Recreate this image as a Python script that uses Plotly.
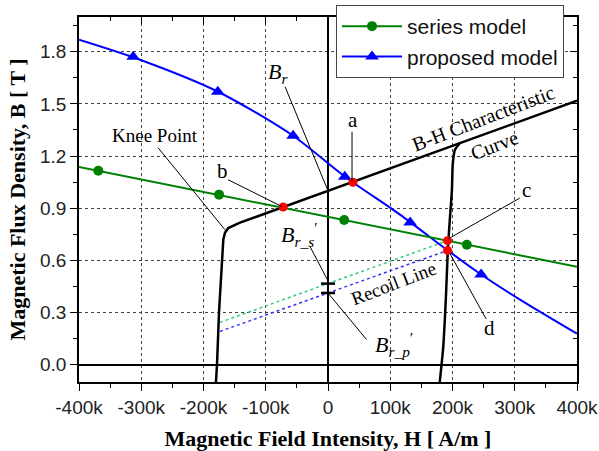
import numpy as np
import plotly.graph_objects as go

# ---------------- data (H in A/m, B in T) ----------------
# proposed model (blue) line and its triangle markers
prop_H = [-400e3, -302e3, -176.7e3, -56.2e3, 27.3e3, 115.7e3, 192.3e3, 244.2e3, 308.4e3, 400e3]
prop_B = [1.869, 1.754, 1.570, 1.317, 1.081, 0.863, 0.657, 0.523, 0.374, 0.178]
prop_mk_H = [-313e3, -177e3, -56e3, 27e3, 132e3, 246e3]
prop_mk_B = [1.772, 1.570, 1.317, 1.081, 0.818, 0.519]

# series model (green) line and its circle markers
ser_H = [-400e3, 400e3]
ser_B = [1.137, 0.563]
ser_mk_H = [-369e3, -175e3, 26e3, 223e3]
ser_mk_B = [1.115, 0.978, 0.832, 0.690]

# B-H characteristic curve (main branch with knee)
bh_H = [-180e3, -178.3e3, -175.1e3, -170.8e3, -168.2e3, -165.5e3, -160.2e3, -141.4e3, 400e3]
bh_B = [-0.10, 0.0, 0.30, 0.592, 0.719, 0.759, 0.786, 0.817, 1.518]
# shifted branch
bh2_H = [179.5e3, 181e3, 185.2e3, 189.5e3, 192.5e3, 196e3, 199e3, 200.5e3, 204e3, 212e3]
bh2_B = [-0.10, -0.05, 0.105, 0.393, 0.66, 0.85, 1.0, 1.16, 1.236, 1.275]

# recoil lines (dotted)
rec_s_H = [-173.5e3, 192e3]
rec_s_B = [0.243, 0.713]
rec_p_H = [-173.5e3, 192e3]
rec_p_B = [0.191, 0.657]

# operating points a, b, c, d
op_H = [40e3, -72e3, 192e3, 192e3]
op_B = [1.049, 0.907, 0.713, 0.657]

# axis ticks
x_tickvals = [-400e3, -300e3, -200e3, -100e3, 0, 100e3, 200e3, 300e3, 400e3]
x_ticktext = ["-400k", "-300k", "-200k", "-100k", "0", "100k", "200k", "300k", "400k"]
y_tickvals = [0.0, 0.3, 0.6, 0.9, 1.2, 1.5, 1.8]
y_ticktext = ["0.0", "0.3", "0.6", "0.9", "1.2", "1.5", "1.8"]

XR = [-400e3, 400e3]
YR = [-0.1, 2.0]

GREEN = "#008000"
BLUE = "#0000ff"
SERIF = "Liberation Serif, Times New Roman, serif"
SANS = "Liberation Sans, Arial, sans-serif"

fig = go.Figure()

# B-H curves
fig.add_trace(go.Scatter(x=bh_H, y=bh_B, mode="lines", line=dict(color="black", width=2.5),
                         showlegend=False, hoverinfo="skip"))
fig.add_trace(go.Scatter(x=bh2_H, y=bh2_B, mode="lines", line=dict(color="black", width=2.5, shape="spline", smoothing=0.6),
                         showlegend=False, hoverinfo="skip"))
# recoil lines
fig.add_trace(go.Scatter(x=rec_s_H, y=rec_s_B, mode="lines", line=dict(color="#33cc77", width=1.5, dash="dot"),
                         showlegend=False, hoverinfo="skip"))
fig.add_trace(go.Scatter(x=rec_p_H, y=rec_p_B, mode="lines", line=dict(color="#3333ff", width=1.5, dash="dot"),
                         showlegend=False, hoverinfo="skip"))
# residual flux marks on H=0
br_marks = [float(np.interp(0, rec_s_H, rec_s_B)), float(np.interp(0, rec_p_H, rec_p_B))]
fig.add_trace(go.Scatter(x=[0, 0], y=br_marks, mode="markers",
                         marker=dict(symbol="line-ew", size=10, line=dict(color="black", width=2.5)),
                         showlegend=False, hoverinfo="skip"))

# proposed model
fig.add_trace(go.Scatter(x=prop_H, y=prop_B, mode="lines", line=dict(color=BLUE, width=2, shape="spline", smoothing=0.8),
                         showlegend=False, hoverinfo="skip"))
fig.add_trace(go.Scatter(x=prop_mk_H, y=prop_mk_B, mode="markers",
                         marker=dict(symbol="triangle-up", size=12, color=BLUE),
                         showlegend=False, hoverinfo="skip"))
# series model
fig.add_trace(go.Scatter(x=ser_H, y=ser_B, mode="lines", line=dict(color=GREEN, width=2),
                         showlegend=False, hoverinfo="skip"))
fig.add_trace(go.Scatter(x=ser_mk_H, y=ser_mk_B, mode="markers",
                         marker=dict(symbol="circle", size=10, color=GREEN),
                         showlegend=False, hoverinfo="skip"))
# operating points
fig.add_trace(go.Scatter(x=op_H, y=op_B, mode="markers", marker=dict(size=9, color="#ff0000"),
                         showlegend=False, hoverinfo="skip"))

# legend entries
fig.add_trace(go.Scatter(x=[None], y=[None], mode="lines+markers", name="series model",
                         line=dict(color=GREEN, width=2), marker=dict(symbol="circle", size=10, color=GREEN)))
fig.add_trace(go.Scatter(x=[None], y=[None], mode="lines+markers", name="proposed model",
                         line=dict(color=BLUE, width=2), marker=dict(symbol="triangle-up", size=12, color=BLUE)))

# dummy traces to realise mirrored (inside) top/right axes
fig.add_trace(go.Scatter(x=[None], y=[None], xaxis="x2", yaxis="y", showlegend=False, hoverinfo="skip"))
fig.add_trace(go.Scatter(x=[None], y=[None], xaxis="x", yaxis="y2", showlegend=False, hoverinfo="skip"))

# leader lines
leaders = [
    ((-273e3, 1.248), (-165.5e3, 0.776)),   # knee point
    ((-160.6e3, 1.064), (-73.9e3, 0.909)),  # b
    ((-69e3, 1.599), (0, 1.0)),             # Br
    ((-29e3, 0.680), (1.5e3, 0.472)),       # Br_s'
    ((62e3, 0.144), (0, 0.412)),            # Br_p'
    ((38.6e3, 1.34), (38.6e3, 1.052)),      # a
    ((308e3, 0.958), (193e3, 0.723)),       # c
    ((254e3, 0.263), (196e3, 0.638)),       # d
]
for (x0, y0), (x1, y1) in leaders:
    fig.add_shape(type="line", xref="x", yref="y", x0=x0, y0=y0, x1=x1, y1=y1,
                  line=dict(color="black", width=1))

def txt(x, y, s, size=19, angle=0):
    fig.add_annotation(x=x, y=y, xref="x", yref="y", text=s, showarrow=False,
                       textangle=angle, font=dict(family=SERIF, size=size, color="black"))

txt(-278e3, 1.318, "Knee Point", 19)
txt(-170e3, 1.112, "b", 21)
txt(40e3, 1.409, "a", 21)
txt(319e3, 1.006, "c", 21)
txt(260e3, 0.211, "d", 21)
txt(-80e3, 1.679, "<i>B</i><sub><i>r</i></sub>", 22)
txt(-46e3, 0.748, "<i>B</i><sub><i>r_s</i></sub><sup>′</sup>", 22)
txt(106e3, 0.115, "<i>B</i><sub><i>r_p</i></sub><sup>′</sup>", 22)
txt(250e3, 1.418, "B-H Characteristic", 20, -21)
txt(268e3, 1.262, "Curve", 20, -21)
txt(105e3, 0.468, "Recoil Line", 19, -21)

axis_common = dict(showline=True, linecolor="black", linewidth=1.5, mirror=False, automargin=False)

fig.update_layout(
    width=599, height=451,
    margin=dict(l=79, r=22, t=17, b=69, autoexpand=False),
    plot_bgcolor="white", paper_bgcolor="white",
    font=dict(family=SANS, size=19, color="#222"),
    xaxis=dict(range=XR, tickvals=x_tickvals, ticktext=x_ticktext,
               ticks="outside", ticklen=7, tickwidth=1.2, tickcolor="black",
               minor=dict(dtick=50e3, tick0=0, ticks="outside", ticklen=4, tickwidth=1.2, tickcolor="black", showgrid=False),
               showgrid=True, gridcolor="#444", griddash="dot", gridwidth=1,
               zeroline=True, zerolinecolor="black", zerolinewidth=1.5,
               title=dict(text="<b>Magnetic Field Intensity, H [ A/m ]</b>",
                          font=dict(family=SERIF, size=22, color="black"), standoff=14),
               tickfont=dict(family=SANS, size=19, color="#222"),
               **axis_common),
    yaxis=dict(range=YR, tickvals=y_tickvals, ticktext=y_ticktext,
               ticks="outside", ticklen=7, tickwidth=1.2, tickcolor="black",
               minor=dict(dtick=0.15, tick0=0, ticks="outside", ticklen=4, tickwidth=1.2, tickcolor="black", showgrid=False),
               showgrid=True, gridcolor="#444", griddash="dot", gridwidth=1,
               zeroline=True, zerolinecolor="black", zerolinewidth=1.5,
               title=dict(text="<b>Magnetic Flux Density, B [ T ]</b>",
                          font=dict(family=SERIF, size=22, color="black"), standoff=8),
               tickfont=dict(family=SANS, size=19, color="#222"),
               **axis_common),
    xaxis2=dict(range=XR, overlaying="x", side="top", anchor="y", tickvals=x_tickvals,
                showticklabels=False, ticks="inside", ticklen=7, tickwidth=1.2, tickcolor="black",
                minor=dict(dtick=50e3, tick0=0, ticks="inside", ticklen=4, tickwidth=1.2, tickcolor="black", showgrid=False),
                showgrid=False, zeroline=False, **axis_common),
    yaxis2=dict(range=YR, overlaying="y", side="right", anchor="x", tickvals=y_tickvals,
                showticklabels=False, ticks="inside", ticklen=7, tickwidth=1.2, tickcolor="black",
                minor=dict(dtick=0.15, tick0=0, ticks="inside", ticklen=4, tickwidth=1.2, tickcolor="black", showgrid=False),
                showgrid=False, zeroline=False, **axis_common),
    legend=dict(xref="container", yref="container", x=336 / 599, y=1 - 5 / 451,
                xanchor="left", yanchor="top",
                bgcolor="white", bordercolor="#444", borderwidth=1,
                font=dict(family=SANS, size=21, color="#111"),
                itemwidth=60, tracegroupgap=0),
    showlegend=True,
)

fig.write_html("out.html")
